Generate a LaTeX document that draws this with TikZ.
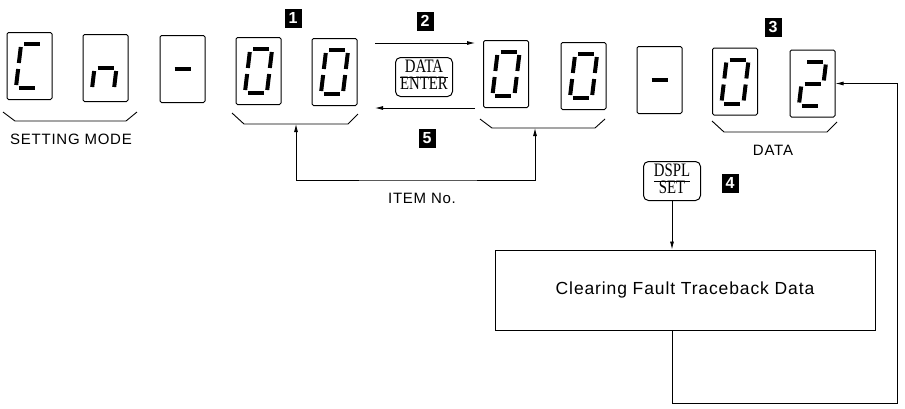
\documentclass[tikz,border=0pt]{standalone}
\usepackage{fontspec}
\setmainfont{Liberation Serif}
\newfontfamily\labelfont[LetterSpace=5]{Liberation Sans}
\newfontfamily\keyfont[FakeStretch=0.78]{Liberation Serif}
\usetikzlibrary{arrows.meta,calc,positioning}
\setlength{\arrayrulewidth}{0.8pt}
\renewcommand{\arraystretch}{0.8}
\tikzset{
  segbox/.style={rectangle, draw, line width=1pt, rounded corners=1.5pt,
                 minimum width=45pt, minimum height=67pt, inner sep=0pt},
  seg/.style={line width=4pt},
  keycap/.style={rectangle, draw, line width=1pt, rounded corners=5pt,
                 minimum width=57pt, minimum height=39pt, inner sep=1pt,
                 font=\keyfont\fontsize{19}{19}\selectfont},
  stepmark/.style={rectangle, fill=black, text=white, minimum width=17pt,
                   minimum height=19pt, inner sep=0pt,
                   font=\labelfont\fontsize{16}{16}\selectfont\bfseries},
  flow/.style={-{Latex[length=8pt,width=4pt]}, line width=0.8pt},
  flowboth/.style={{Latex[length=8pt,width=4pt]}-{Latex[length=8pt,width=4pt]}, line width=0.8pt},
  brk/.style={line width=0.9pt},
  lbl/.style={font=\labelfont\fontsize{15}{15}\selectfont},
}
% seven-segment figure inside a display box
\newcommand{\segdigit}[2]{%
  \begin{scope}[shift={(#1.center)}, xslant=0.12]
    \coordinate (seg-a-1) at (-8,-22);  \coordinate (seg-a-2) at (8,-22);
    \coordinate (seg-b-1) at (11,-19);  \coordinate (seg-b-2) at (11,-3);
    \coordinate (seg-c-1) at (11,3);    \coordinate (seg-c-2) at (11,19);
    \coordinate (seg-d-1) at (-8,22);   \coordinate (seg-d-2) at (8,22);
    \coordinate (seg-e-1) at (-11,3);   \coordinate (seg-e-2) at (-11,19);
    \coordinate (seg-f-1) at (-11,-19); \coordinate (seg-f-2) at (-11,-3);
    \coordinate (seg-g-1) at (-8,0);    \coordinate (seg-g-2) at (8,0);
    \foreach \s in {#2} {\draw[seg] (seg-\s-1) -- (seg-\s-2);}
  \end{scope}}

\begin{document}
\begin{tikzpicture}[x=1pt, y=-1pt]
  \useasboundingbox (0,0) rectangle (905,408);

  % ---- display boxes -------------------------------------------------------
  \node[segbox] (b1)  at (29.5,66)  {};
  \node[segbox] (b2)  at (105.5,68) {};
  \node[segbox] (b3)  at (182.5,69) {};
  \node[segbox] (b4)  at (258.5,71) {};
  \node[segbox] (b5)  at (334.5,72) {};
  \node[segbox] (b6)  at (506,74)   {};
  \node[segbox] (b7)  at (583.5,76) {};
  \node[segbox] (b8)  at (659.5,80) {};
  \node[segbox] (b9)  at (735,81.5) {};
  \node[segbox] (b10) at (812.5,83.5) {};

  \segdigit{b1}{a,f,e,d}
  \segdigit{b2}{g,e,c}
  \segdigit{b3}{g}
  \segdigit{b4}{a,b,c,d,e,f}
  \segdigit{b5}{a,b,c,d,e,f}
  \segdigit{b6}{a,b,c,d,e,f}
  \segdigit{b7}{a,b,c,d,e,f}
  \segdigit{b8}{g}
  \segdigit{b9}{a,b,c,d,e,f}
  \segdigit{b10}{a,b,g,e,d}

  % ---- brackets under the groups -------------------------------------------
  \draw[brk] (3,112) -- (15,121) -- (126,121) -- (137,112);
  \draw[brk] (232,113) -- (244,124) -- (348,124) -- (358,114);
  \draw[brk] (480,119) -- (492,128) -- (595,128) -- (605,119);
  \draw[brk] (712,121) -- (724,132) -- (827,132) -- (837,122);

  \node[lbl] (modelab) at (71,139) {SETTING MODE};
  \node[lbl] (datalab) at (773,150) {DATA};

  % ---- step marks ----------------------------------------------------------
  \node[stepmark] (s1) at (293,18)  {1};
  \node[stepmark] (s2) at (425,21)  {2};
  \node[stepmark] (s3) at (773,27)  {3};
  \node[stepmark] (s4) at (730,183) {4};
  \node[stepmark] (s5) at (427,138) {5};

  % ---- DATA/ENTER key and the two moves --------------------------------------
  \node[keycap] (dataent) at (424,77)
    {\begin{tabular}{@{}c@{}}DATA\\\hline ENTER\end{tabular}};
  \coordinate (fwd-a) at (375,43);
  \coordinate (fwd-b) at (475,43);
  \coordinate (back-a) at (475,108);
  \coordinate (back-b) at (375,108);
  \draw[flow] (fwd-a) -- (fwd-b);
  \draw[flow] (back-a) -- (back-b);

  % ---- item number ---------------------------------------------------------
  \coordinate (item-l) at (296,124);
  \coordinate (item-r) at (535,128);
  \coordinate (item-base) at (420,180);
  \draw[flowboth] (item-l) |- (item-base) -| (item-r);
  \node[lbl] (itemlab) at (422,198) {ITEM No.};

  % ---- DSPL/SET and clearing -----------------------------------------------
  \node[keycap] (dsplset) at (672,181)
    {\begin{tabular}{@{}c@{}}DSPL\\\hline SET\end{tabular}};
  \node[draw, line width=1pt, minimum width=380pt, minimum height=80pt,
        font=\labelfont\fontsize{17.5}{17.5}\selectfont] (clear) at (685,290)
    {Clearing Fault Traceback Data};
  \draw[flow] (dsplset) -- (dsplset |- clear.north);
  \coordinate (loop-c) at (897,403);
  \draw[flow] (clear.south -| dsplset) |- (loop-c) |- (b10.east);
\end{tikzpicture}
\end{document}
